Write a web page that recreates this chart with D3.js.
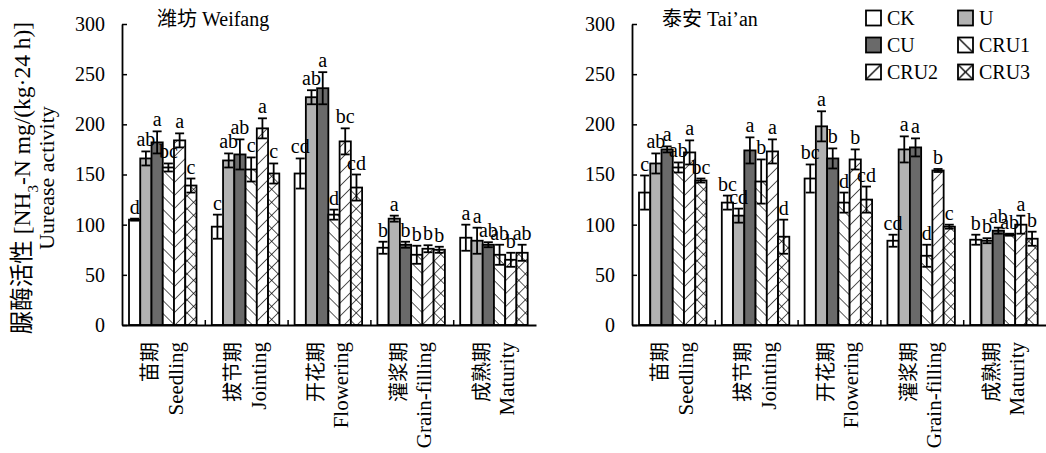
<!DOCTYPE html>
<html>
<head>
<meta charset="utf-8">
<script src="https://cdn.jsdelivr.net/npm/d3@7"></script>
<style>
  html, body { margin: 0; padding: 0; background: #fff; }
  svg { display: block; }
  text { font-family: "Liberation Serif", "Times New Roman", "Noto Sans CJK SC", serif; fill: #000; }
</style>
</head>
<body>
<svg id="chart" width="1046" height="453"></svg>
<script>
// Growth stages (Chinese / English) and treatments
const stagesZh = ["苗期", "拔节期", "开花期", "灌浆期", "成熟期"];
const stagesEn = ["Seedling", "Jointing", "Flowering", "Grain-filling", "Maturity"];
const treatments = ["CK", "U", "CU", "CRU1", "CRU2", "CRU3"];
const yTicks = [0, 50, 100, 150, 200, 250, 300];

// Weifang: urease activity, rows = stages, columns = treatments
const weifangMean = [
  [105, 166, 182, 157, 184, 139],
  [98, 164, 170, 155, 196, 151],
  [151, 227, 236, 110, 183, 137],
  [77, 106, 80, 70, 76, 75],
  [87, 84, 80, 70, 65, 72]
];
const weifangErr = [
  [1, 7, 11, 4, 7, 7],
  [12, 7, 15, 12, 10, 10],
  [15, 7, 16, 5, 13, 13],
  [6, 3, 3, 9, 3.5, 3],
  [13, 13, 2.5, 10, 7, 8]
];
const weifangSig = [
  ["d", "ab", "a", "bc", "a", "c"],
  ["c", "ab", "ab", "c", "a", "c"],
  ["cd", "ab", "a", "d", "bc", "cd"],
  ["b", "a", "b", "b", "b", "b"],
  ["a", "a", "ab", "ab", "b", "ab"]
];

// Tai'an
const taianMean = [
  [132, 161, 175, 157, 172, 144],
  [122, 109, 174, 143, 173, 88],
  [146, 198, 166, 122, 165, 125],
  [84, 175, 177, 69, 154, 98],
  [85, 84, 94, 90, 100, 86]
];
const taianErr = [
  [17, 10, 3, 5, 12, 2],
  [7, 7, 13, 22, 12, 17],
  [14, 15, 10, 10, 10, 13],
  [6, 13, 9, 11, 1.5, 2],
  [5, 2.5, 3, 1, 9, 7]
];
const taianSig = [
  ["c", "ab", "a", "ab", "a", "bc"],
  ["bc", "cd", "a", "b", "a", "d"],
  ["bc", "a", "b", "d", "b", "cd"],
  ["cd", "a", "a", "d", "b", "c"],
  ["b", "b", "ab", "ab", "a", "b"]
];

const svg = d3.select("#chart");
const defs = svg.append("defs");

// Hatch patterns for the controlled-release treatments
function hatch(id, angle, cross) {
  const p = defs.append("pattern")
    .attr("id", id)
    .attr("patternUnits", "userSpaceOnUse")
    .attr("width", 9.2).attr("height", 9.2)
    .attr("patternTransform", `rotate(${angle})`);
  p.append("rect").attr("width", 9.2).attr("height", 9.2).attr("fill", "#fff");
  p.append("line").attr("x1", 0).attr("y1", -1).attr("x2", 0).attr("y2", 10.2)
    .attr("stroke", "#000").attr("stroke-width", 1.3);
  if (cross) {
    p.append("line").attr("x1", -1).attr("y1", 0).attr("x2", 10.2).attr("y2", 0)
      .attr("stroke", "#000").attr("stroke-width", 1.3);
  }
}
hatch("hatchBack", -45, false);
hatch("hatchFwd", 45, false);
hatch("hatchCross", 45, true);

// Legend swatches: single diagonal(s) corner to corner
function swatch(id, paths) {
  const p = defs.append("pattern")
    .attr("id", id)
    .attr("patternUnits", "objectBoundingBox")
    .attr("width", 1).attr("height", 1);
  p.append("rect").attr("width", 15).attr("height", 15).attr("fill", "#fff");
  paths.forEach(d => p.append("path").attr("d", d).attr("stroke", "#000").attr("stroke-width", 1.3));
}
swatch("swBack", ["M0,0L15,15"]);
swatch("swFwd", ["M0,15L15,0"]);
swatch("swCross", ["M0,0L15,15", "M0,15L15,0"]);

const fills = ["#ffffff", "#b2b2b2", "#6a6a6a", "url(#hatchBack)", "url(#hatchFwd)", "url(#hatchCross)"];
const legendFills = ["#ffffff", "#b2b2b2", "#6a6a6a", "url(#swBack)", "url(#swFwd)", "url(#swCross)"];

const y = d3.scaleLinear().domain([0, 300]).range([325, 24]);
const plotW = 414;

const panels = [
  { title: "潍坊 Weifang", mean: weifangMean, err: weifangErr, sig: weifangSig, x0: 122, titleDx: 35 },
  { title: "泰安 Tai\u2019an", mean: taianMean, err: taianErr, sig: taianSig, x0: 632, titleDx: 30 }
];

panels.forEach(pn => {
  const g = svg.append("g").attr("transform", `translate(${pn.x0},0)`);
  const x0 = d3.scaleBand().domain(stagesEn).range([0, plotW]).padding(0);
  const x1 = d3.scaleBand().domain(treatments).range([7, 74.5]).padding(0);

  const rows = [];
  stagesEn.forEach((s, i) => treatments.forEach((t, j) => {
    rows.push({ stage: s, t, j, v: pn.mean[i][j], e: pn.err[i][j], sig: pn.sig[i][j] });
  }));

  // bars
  g.selectAll("rect.bar").data(rows).join("rect")
    .attr("class", "bar")
    .attr("x", d => x0(d.stage) + x1(d.t))
    .attr("y", d => y(d.v))
    .attr("width", x1.bandwidth())
    .attr("height", d => y(0) - y(d.v))
    .attr("fill", d => fills[d.j])
    .attr("stroke", "#000").attr("stroke-width", 1.8);

  // error bars
  const eb = g.selectAll("g.err").data(rows).join("g").attr("class", "err")
    .attr("transform", d => `translate(${x0(d.stage) + x1(d.t) + x1.bandwidth() / 2},0)`)
    .attr("stroke", "#000").attr("stroke-width", 1.8);
  eb.append("line").attr("y1", d => y(d.v - d.e)).attr("y2", d => y(d.v + d.e));
  eb.append("line").attr("x1", -4.5).attr("x2", 4.5).attr("y1", d => y(d.v + d.e)).attr("y2", d => y(d.v + d.e));
  eb.append("line").attr("x1", -4.5).attr("x2", 4.5).attr("y1", d => y(d.v - d.e)).attr("y2", d => y(d.v - d.e));

  // significance letters
  g.selectAll("text.sig").data(rows).join("text")
    .attr("class", "sig")
    .attr("x", d => x0(d.stage) + x1(d.t) + x1.bandwidth() / 2)
    .attr("y", d => y(d.v + d.e) - 5)
    .attr("text-anchor", "middle")
    .attr("font-size", 20)
    .text(d => d.sig);

  // y axis with inward ticks
  const ya = g.append("g").call(d3.axisLeft(y).tickValues(yTicks).tickSizeInner(-5).tickSizeOuter(0).tickPadding(17));
  ya.select(".domain").attr("stroke-width", 1.8);
  ya.selectAll(".tick line").attr("stroke-width", 1.5);
  ya.selectAll("text").attr("font-size", 20).attr("font-family", "Liberation Serif, Times New Roman, serif");

  // x axis with ticks between stage groups
  const xb = d3.scaleLinear().domain([0, stagesEn.length]).range([0, plotW]);
  const xa = g.append("g").attr("transform", `translate(0,${y(0)})`)
    .call(d3.axisBottom(xb).tickValues([1, 2, 3, 4]).tickSizeInner(-5).tickSizeOuter(0).tickFormat(""));
  xa.select(".domain").attr("stroke-width", 1.8);
  xa.selectAll(".tick line").attr("stroke-width", 1.5);

  // stage labels, rotated
  const lab = g.selectAll("g.stage").data(stagesEn).join("g").attr("class", "stage")
    .attr("transform", d => `translate(${x0(d) + x0.bandwidth() / 2},342) rotate(-90)`);
  lab.append("text")
    .attr("y", -13).attr("dy", "0.35em")
    .attr("text-anchor", "end").attr("font-size", 20)
    .text((d, i) => stagesZh[i]);
  lab.append("text")
    .attr("y", 12).attr("dy", "0.35em")
    .attr("text-anchor", "end").attr("font-size", 21)
    .text(d => d);

  // panel title
  g.append("text").attr("x", pn.titleDx).attr("y", 26).attr("font-size", 20).text(pn.title);
});

// y-axis title
const yt = svg.append("g").attr("transform", "translate(0,178) rotate(-90)");
const l1 = yt.append("text").attr("y", 22).attr("dy", "0.35em").attr("text-anchor", "middle").attr("font-size", 23.5);
l1.append("tspan").text("脲酶活性 [NH");
l1.append("tspan").attr("font-size", 15).attr("baseline-shift", "sub").text("3");
l1.append("tspan").text("-N mg/(kg·24 h)]");
yt.append("text").attr("y", 46).attr("dy", "0.35em").attr("text-anchor", "middle").attr("font-size", 22)
  .text("Uurease activity");

// legend
const leg = svg.append("g");
const legItems = treatments.map((t, i) => ({ t, i, col: i % 2, row: Math.floor(i / 2) }));
const lg = leg.selectAll("g").data(legItems).join("g")
  .attr("transform", d => `translate(${d.col ? 958 : 866},${18 + d.row * 27})`);
lg.append("rect").attr("x", 0).attr("y", -7.5).attr("width", 15).attr("height", 15)
  .attr("fill", d => legendFills[d.i]).attr("stroke", "#000").attr("stroke-width", 1.8);
lg.append("text").attr("x", 21).attr("dy", "0.35em").attr("font-size", 20).text(d => d.t);
</script>
</body>
</html>
